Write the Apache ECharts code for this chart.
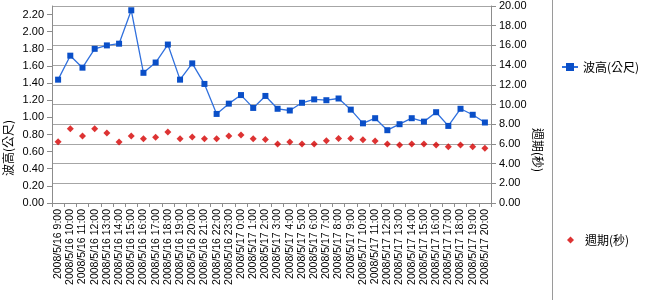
<!DOCTYPE html>
<html><head><meta charset="utf-8">
<script src="https://cdn.jsdelivr.net/npm/echarts@6/dist/echarts.min.js"></script>
<style>html,body{margin:0;padding:0;background:#fff}#c{width:645px;height:300px}</style>
</head><body><div id="c"></div>
<script>
const categories = [
 '2008/5/16 9:00','2008/5/16 10:00','2008/5/16 11:00','2008/5/16 12:00','2008/5/16 13:00','2008/5/16 14:00',
 '2008/5/16 15:00','2008/5/16 16:00','2008/5/16 17:00','2008/5/16 18:00','2008/5/16 19:00','2008/5/16 20:00',
 '2008/5/16 21:00','2008/5/16 22:00','2008/5/16 23:00','2008/5/17 0:00','2008/5/17 1:00','2008/5/17 2:00',
 '2008/5/17 3:00','2008/5/17 4:00','2008/5/17 5:00','2008/5/17 6:00','2008/5/17 7:00','2008/5/17 8:00',
 '2008/5/17 9:00','2008/5/17 10:00','2008/5/17 11:00','2008/5/17 12:00','2008/5/17 13:00','2008/5/17 14:00',
 '2008/5/17 15:00','2008/5/17 16:00','2008/5/17 17:00','2008/5/17 18:00','2008/5/17 19:00','2008/5/17 20:00'
];
const waveHeight = [1.44,1.72,1.58,1.80,1.84,1.86,2.25,1.52,1.64,1.85,1.44,1.63,1.39,1.04,1.16,1.26,1.11,1.25,
 1.10,1.08,1.17,1.21,1.20,1.22,1.09,0.93,0.99,0.85,0.92,0.99,0.95,1.06,0.90,1.10,1.03,0.94];
const period = [6.22,7.55,6.80,7.55,7.10,6.20,6.80,6.53,6.67,7.20,6.53,6.70,6.53,6.53,6.80,6.90,6.53,6.45,
 6.00,6.20,6.00,6.00,6.33,6.56,6.56,6.43,6.30,6.00,5.90,6.00,6.00,5.90,5.70,5.90,5.70,5.55];
const leftTicks = {min:0, max:2.3, interval:0.2};
const rightTicks = {min:0, max:20, interval:2};
const seriesNames = ['波高(公尺)','週期(秒)'];

const numFont = 'Liberation Sans, Arial, sans-serif';
const cjkFont = '"Noto Sans CJK TC", "Noto Sans CJK SC", sans-serif';
const chart = echarts.init(document.getElementById('c'));
chart.setOption({
  animation:false,
  backgroundColor:'#fff',
  grid:{left:52, right:154, top:6, bottom:97, containLabel:false},
  legend:[
    {orient:'vertical', left:556, top:56, itemWidth:16, itemHeight:10, itemGap:8,
     textStyle:{fontFamily:cjkFont, fontSize:12, color:'#000'}, data:[seriesNames[0]]},
    {orient:'vertical', left:562, top:229, itemWidth:7, itemHeight:7, itemGap:8,
     textStyle:{fontFamily:cjkFont, fontSize:12, color:'#000', padding:[0,0,0,6]}, data:[seriesNames[1]]}
  ],
  xAxis:{
    type:'category', data:categories, boundaryGap:true,
    axisLine:{lineStyle:{color:'#8c8c8c'}},
    axisTick:{show:true, interval:0, length:4, lineStyle:{color:'#8c8c8c'}},
    axisLabel:{interval:0, rotate:90, margin:6, fontSize:10.5, color:'#000', fontFamily:numFont}
  },
  yAxis:[
    {type:'value', min:leftTicks.min, max:leftTicks.max, interval:leftTicks.interval,
     axisLine:{show:true, lineStyle:{color:'#8c8c8c'}},
     axisTick:{show:true, length:5, lineStyle:{color:'#8c8c8c'}},
     splitLine:{show:false},
     axisLabel:{showMaxLabel:false, margin:8, fontSize:11, color:'#000', fontFamily:numFont,
       formatter:v=>v.toFixed(2)}},
    {type:'value', min:rightTicks.min, max:rightTicks.max, interval:rightTicks.interval,
     axisLine:{show:true, lineStyle:{color:'#8c8c8c'}},
     axisTick:{show:true, length:5, lineStyle:{color:'#8c8c8c'}},
     splitLine:{show:true, lineStyle:{color:'#a6a6a6', width:1}},
     axisLabel:{margin:8, fontSize:11, color:'#000', fontFamily:numFont,
       formatter:v=>v.toFixed(2)}}
  ],
  graphic:[
    {type:'line', shape:{x1:552.5,y1:0,x2:552.5,y2:300}, style:{stroke:'#9a9a9a', lineWidth:1}},
    {type:'text', x:8, y:148, rotation:Math.PI/2,
     style:{text:'波高(公尺)', fontFamily:cjkFont, fontSize:12, fill:'#000', textAlign:'center', textVerticalAlign:'middle'}},
    {type:'text', x:538, y:150, rotation:-Math.PI/2,
     style:{text:'週期(秒)', fontFamily:cjkFont, fontSize:12, fill:'#000', textAlign:'center', textVerticalAlign:'middle'}}
  ],
  series:[
    {name:seriesNames[0], type:'line', yAxisIndex:0, data:waveHeight,
     symbol:'rect', symbolSize:6, color:'#1155cc',
     lineStyle:{color:'#3070dd', width:1.3},
     itemStyle:{color:'#0a4fc8'}},
    {name:seriesNames[1], type:'scatter', yAxisIndex:1, data:period,
     symbol:'diamond', symbolSize:7, symbolKeepAspect:true, color:'#d40000',
     itemStyle:{color:'#d40000'}}
  ]
});
</script></body></html>
